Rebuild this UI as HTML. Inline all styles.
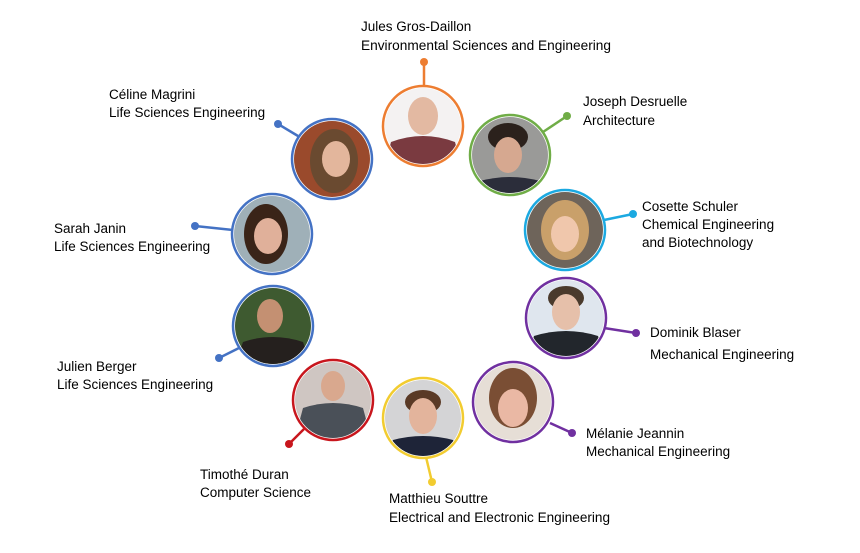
<!DOCTYPE html>
<html><head><meta charset="utf-8"><style>
html,body{margin:0;padding:0;background:#fff;}
svg{display:block;}
text{font-family:"Liberation Sans",sans-serif;font-size:13.5px;fill:#000;}
</style></head><body>
<svg width="860" height="553" viewBox="0 0 860 553" xmlns="http://www.w3.org/2000/svg">
<defs>
<clipPath id="c"><circle cx="0" cy="0" r="38"/></clipPath>
</defs>

<g stroke-width="2.5" fill="none">
<line x1="424" y1="86" x2="424" y2="62" stroke="#ED7D31"/>
<line x1="543" y1="132" x2="567" y2="116" stroke="#70AD47"/>
<line x1="604" y1="220" x2="633" y2="214" stroke="#1BA9E1"/>
<line x1="604" y1="328" x2="636" y2="333" stroke="#7030A0"/>
<line x1="550" y1="423" x2="572" y2="433" stroke="#7030A0"/>
<line x1="426" y1="457" x2="432" y2="482" stroke="#F2CC30"/>
<line x1="304" y1="429" x2="289" y2="444" stroke="#C8161D"/>
<line x1="239" y1="348" x2="219" y2="358" stroke="#4472C4"/>
<line x1="233" y1="230" x2="195" y2="226" stroke="#4472C4"/>
<line x1="298" y1="136" x2="278" y2="124" stroke="#4472C4"/>
</g>
<g>
<circle cx="424" cy="62" r="4" fill="#ED7D31"/>
<circle cx="567" cy="116" r="4" fill="#70AD47"/>
<circle cx="633" cy="214" r="4" fill="#1BA9E1"/>
<circle cx="636" cy="333" r="4" fill="#7030A0"/>
<circle cx="572" cy="433" r="4" fill="#7030A0"/>
<circle cx="432" cy="482" r="4" fill="#F2CC30"/>
<circle cx="289" cy="444" r="4" fill="#C8161D"/>
<circle cx="219" cy="358" r="4" fill="#4472C4"/>
<circle cx="195" cy="226" r="4" fill="#4472C4"/>
<circle cx="278" cy="124" r="4" fill="#4472C4"/>
</g>

<g transform="translate(423,126)"><g clip-path="url(#c)"><rect x="-40" y="-40" width="80" height="80" fill="#f4f2f2"/><ellipse cx="0" cy="-10" rx="15" ry="19" fill="#e3b9a2"/><path d="M-38 38 L-32 16 Q0 4 32 16 L38 38 Z" fill="#7a3a40"/></g><circle r="40" fill="none" stroke="#ED7D31" stroke-width="2.5"/></g>
<g transform="translate(510,155)"><g clip-path="url(#c)"><rect x="-40" y="-40" width="80" height="80" fill="#9a9a98"/><ellipse cx="-2" cy="-18" rx="20" ry="14" fill="#2b211c"/><ellipse cx="-2" cy="0" rx="14" ry="18" fill="#d6a890"/><path d="M-38 38 L-30 26 Q0 18 30 26 L38 38 Z" fill="#2b2d3a"/></g><circle r="40" fill="none" stroke="#70AD47" stroke-width="2.5"/></g>
<g transform="translate(565,230)"><g clip-path="url(#c)"><rect x="-40" y="-40" width="80" height="80" fill="#6e645a"/><ellipse cx="0" cy="0" rx="24" ry="30" fill="#c9a06a"/><ellipse cx="0" cy="4" rx="14" ry="18" fill="#f0c7ac"/></g><circle r="40" fill="none" stroke="#1BA9E1" stroke-width="2.5"/></g>
<g transform="translate(566,318)"><g clip-path="url(#c)"><rect x="-40" y="-40" width="80" height="80" fill="#dfe6ee"/><ellipse cx="0" cy="-20" rx="18" ry="12" fill="#4a3a2c"/><ellipse cx="0" cy="-6" rx="14" ry="18" fill="#e6c0aa"/><path d="M-38 38 L-32 18 Q0 8 32 18 L38 38 Z" fill="#22262c"/></g><circle r="40" fill="none" stroke="#7030A0" stroke-width="2.5"/></g>
<g transform="translate(513,402)"><g clip-path="url(#c)"><rect x="-40" y="-40" width="80" height="80" fill="#e6ded6"/><ellipse cx="0" cy="-4" rx="24" ry="30" fill="#7a4e34"/><ellipse cx="0" cy="6" rx="15" ry="19" fill="#eab8a4"/></g><circle r="40" fill="none" stroke="#7030A0" stroke-width="2.5"/></g>
<g transform="translate(423,418)"><g clip-path="url(#c)"><rect x="-40" y="-40" width="80" height="80" fill="#d4d4d6"/><ellipse cx="0" cy="-16" rx="18" ry="12" fill="#5a3a26"/><ellipse cx="0" cy="-2" rx="14" ry="18" fill="#e3b49c"/><path d="M-38 38 L-30 22 Q0 14 30 22 L38 38 Z" fill="#1e2438"/></g><circle r="40" fill="none" stroke="#F2CC30" stroke-width="2.5"/></g>
<g transform="translate(333,400)"><g clip-path="url(#c)"><rect x="-40" y="-40" width="80" height="80" fill="#cfc6c2"/><ellipse cx="0" cy="-14" rx="12" ry="15" fill="#d9a88e"/><path d="M-38 38 L-30 8 Q0 -2 30 8 L38 38 Z" fill="#4a5058"/></g><circle r="40" fill="none" stroke="#C8161D" stroke-width="2.5"/></g>
<g transform="translate(273,326)"><g clip-path="url(#c)"><rect x="-40" y="-40" width="80" height="80" fill="#3e5a30"/><ellipse cx="-3" cy="-10" rx="13" ry="17" fill="#c49072"/><path d="M-38 38 L-30 16 Q0 6 30 16 L38 38 Z" fill="#25201e"/></g><circle r="40" fill="none" stroke="#4472C4" stroke-width="2.5"/></g>
<g transform="translate(272,234)"><g clip-path="url(#c)"><rect x="-40" y="-40" width="80" height="80" fill="#9fb0b8"/><ellipse cx="-6" cy="0" rx="22" ry="30" fill="#3a2418"/><ellipse cx="-4" cy="2" rx="14" ry="18" fill="#e0b09a"/></g><circle r="40" fill="none" stroke="#4472C4" stroke-width="2.5"/></g>
<g transform="translate(332,159)"><g clip-path="url(#c)"><rect x="-40" y="-40" width="80" height="80" fill="#9a4a2c"/><ellipse cx="2" cy="2" rx="24" ry="32" fill="#6a4a30"/><ellipse cx="4" cy="0" rx="14" ry="18" fill="#e3b69c"/></g><circle r="40" fill="none" stroke="#4472C4" stroke-width="2.5"/></g>

<text x="361" y="31">Jules Gros-Daillon</text>
<text x="361" y="50" textLength="250" lengthAdjust="spacingAndGlyphs">Environmental Sciences  and Engineering</text>
<text x="583" y="106">Joseph Desruelle</text>
<text x="583" y="125">Architecture</text>
<text x="642" y="211">Cosette Schuler</text>
<text x="642" y="229">Chemical Engineering</text>
<text x="642" y="247">and Biotechnology</text>
<text x="650" y="337">Dominik Blaser</text>
<text x="650" y="359">Mechanical Engineering</text>
<text x="586" y="438">Mélanie Jeannin</text>
<text x="586" y="456">Mechanical Engineering</text>
<text x="389" y="503">Matthieu Souttre</text>
<text x="389" y="522" textLength="221" lengthAdjust="spacingAndGlyphs">Electrical and Electronic Engineering</text>
<text x="200" y="479">Timothé Duran</text>
<text x="200" y="497">Computer Science</text>
<text x="57" y="371">Julien Berger</text>
<text x="57" y="389">Life Sciences Engineering</text>
<text x="54" y="233">Sarah Janin</text>
<text x="54" y="251">Life Sciences Engineering</text>
<text x="109" y="99">Céline Magrini</text>
<text x="109" y="117">Life Sciences Engineering</text>
</svg>
</body></html>
